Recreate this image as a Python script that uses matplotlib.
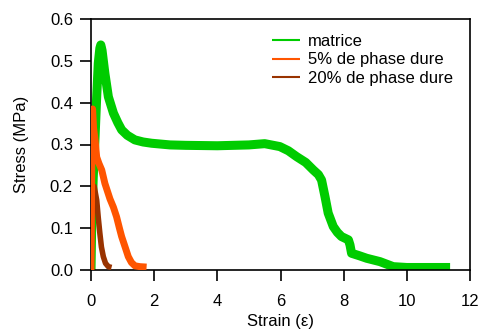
"""Stress-strain curves: matrice vs hard-phase fractions."""

import matplotlib
matplotlib.use('Agg')
import matplotlib.pyplot as plt

plt.rcParams['font.family'] = ['Liberation Sans', 'DejaVu Sans']

# matrice (green)
strain_mat = [0, 0.02, 0.07, 0.13, 0.18, 0.23, 0.28, 0.31, 0.35, 0.44, 0.55,
              0.71, 0.85, 0.97, 1.15, 1.39, 1.65, 1.92, 2.5, 3.0, 4.0, 5.0,
              5.5, 5.98, 6.25, 6.51, 6.8, 7.04, 7.2, 7.3, 7.41, 7.51, 7.67,
              7.8, 7.93, 8.15, 8.2, 8.25, 8.5, 8.73, 9.15, 9.57, 10.0,
              10.5, 11.0, 11.37]
stress_mat = [0, 0.1, 0.22, 0.32, 0.414, 0.494, 0.53, 0.538, 0.525, 0.47,
              0.414, 0.375, 0.352, 0.335, 0.322, 0.311, 0.306, 0.303, 0.299,
              0.298, 0.297, 0.299, 0.302, 0.295, 0.285, 0.271, 0.257, 0.239,
              0.228, 0.215, 0.175, 0.136, 0.104, 0.09, 0.08, 0.072, 0.06,
              0.04, 0.034, 0.028, 0.02, 0.008, 0.006, 0.006, 0.006, 0.006]

# 5% de phase dure (orange)
strain_5 = [0, 0.03, 0.05, 0.08, 0.13, 0.18, 0.25, 0.34, 0.44, 0.6, 0.71,
            0.81, 0.9, 0.97, 1.08, 1.18, 1.28, 1.39, 1.55, 1.76]
stress_5 = [0, 0.3, 0.385, 0.34, 0.31, 0.27, 0.255, 0.239, 0.207, 0.17, 0.15,
            0.127, 0.1, 0.08, 0.055, 0.032, 0.018, 0.01, 0.008, 0.007]

# 20% de phase dure (brown)
strain_20 = [0, 0.04, 0.1, 0.18, 0.23, 0.28, 0.33, 0.39, 0.46, 0.55, 0.65]
stress_20 = [0, 0.19, 0.2, 0.167, 0.125, 0.088, 0.055, 0.032, 0.016, 0.008,
             0.006]

W, H = 479, 332
fig = plt.figure(figsize=(W / 100, H / 100), dpi=100)
ax = fig.add_axes([91 / W, (H - 270) / H, 379 / W, 251 / H])

ax.plot(strain_mat, stress_mat, color='#00cc00', lw=6.5, label='matrice',
        zorder=2, solid_capstyle='butt')
ax.plot(strain_20, stress_20, color='#993300', lw=4, label='20% de phase dure',
        zorder=3, solid_capstyle='butt')
ax.plot(strain_5, stress_5, color='#ff5500', lw=5, label='5% de phase dure',
        zorder=4, solid_capstyle='butt')

ax.set_xlim(0, 12)
ax.set_ylim(0, 0.6)
ax.set_xticks(range(0, 13, 2))
ax.set_yticks([0.0, 0.1, 0.2, 0.3, 0.4, 0.5, 0.6])
ax.set_yticklabels([f'{v:.1f}' for v in ax.get_yticks()])
ax.tick_params(direction='out', length=8, width=1.2, labelsize=12,
               colors='black')
ax.tick_params(axis='x', pad=9)
ax.tick_params(axis='y', pad=5)
for sp in ax.spines.values():
    sp.set_linewidth(1.2)

ax.set_xlabel('Strain (\u03b5)', fontsize=12, labelpad=4)
ax.set_ylabel('Stress (MPa)', fontsize=12, labelpad=15)

handles, labels = ax.get_legend_handles_labels()
order = [0, 2, 1]
leg = ax.legend([handles[i] for i in order], [labels[i] for i in order],
                loc='upper left', bbox_to_anchor=(181 / 379, 0.94),
                frameon=False, fontsize=12, handlelength=1.68,
                handletextpad=0.48, labelspacing=0.2, borderaxespad=0,
                borderpad=0)
for line in leg.get_lines():
    line.set_linewidth(1.5)

fig.savefig('out.png', dpi=100)
